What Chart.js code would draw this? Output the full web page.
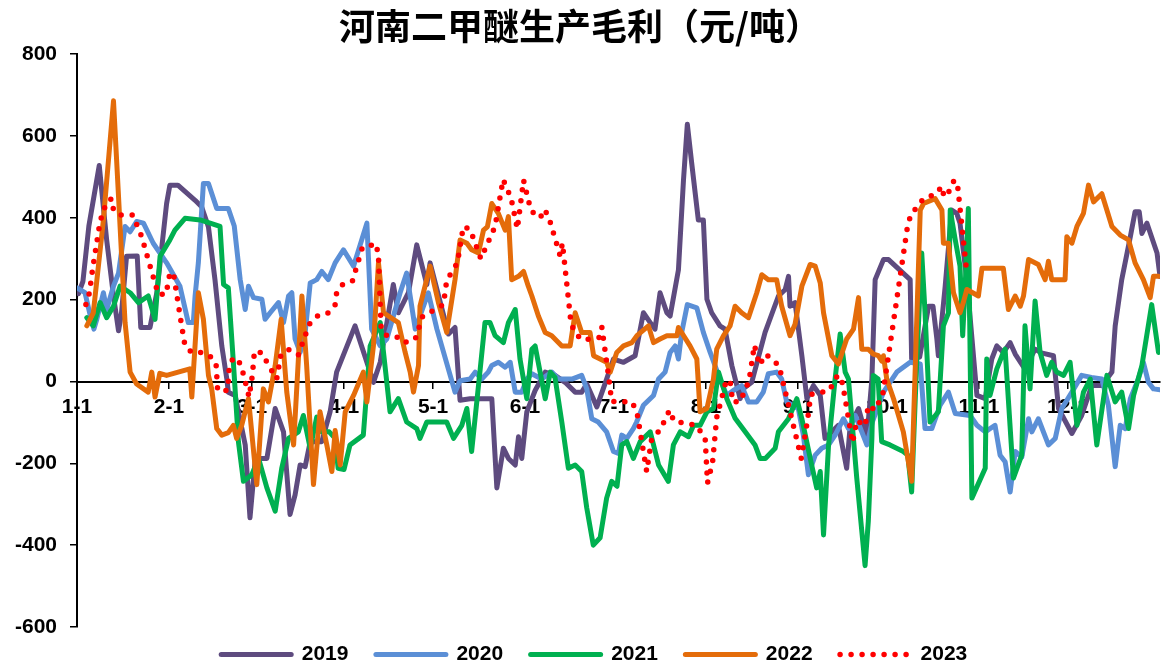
<!DOCTYPE html>
<html>
<head>
<meta charset="utf-8">
<title>河南二甲醚生产毛利</title>
<script src="https://cdn.jsdelivr.net/npm/chart.js@4.4.0/dist/chart.umd.min.js"></script>
<style>
  html, body { margin: 0; padding: 0; background: #fff; }
  #wrap { width: 1161px; height: 668px; }
</style>
</head>
<body>
<div id="wrap"><canvas id="profit-chart" width="1161" height="668"></canvas></div>
<script>
// Axis ticks (day of year where each month starts)
var monthDays = [0, 31, 59, 90, 120, 151, 181, 212, 243, 273, 304, 334];
var monthLabels = ['1-1', '2-1', '3-1', '4-1', '5-1', '6-1', '7-1', '8-1', '9-1', '10-1', '11-1', '12-1'];

// 2019
var days2019 = [0.5, 2, 4, 7.5, 10, 12.3, 14, 15, 16.7, 20.3, 21.5, 24.6, 26.9, 30.2, 31.3, 34, 39.8, 42, 44.3, 46.5, 48.8, 50.5, 51, 53.3, 56.7, 58.3, 60, 61.2, 64, 66.8, 69.6, 71.8, 73.5, 75.2, 76.9, 78.6, 82.5, 85.3, 87.5, 93.7, 99.9, 102.2, 106.6, 108.3, 111.7, 114.5, 117.9, 119, 125.2, 127.4, 129.1, 132.5, 136.4, 139.8, 141.5, 143.7, 145.4, 147.7, 148.8, 149.9, 151.6, 154.4, 157.8, 161.1, 164.5, 167.9, 170.1, 171.8, 175.2, 178.5, 180.8, 184.2, 188.1, 190.9, 193.2, 194.8, 196.5, 198.8, 199.9, 202.7, 204.4, 205.7, 207.2, 209.4, 211.1, 212.3, 213.9, 216.7, 218.4, 220.7, 223.5, 224.5, 227.4, 231.9, 236.4, 238.7, 239.8, 240.3, 242, 244.3, 246, 248.2, 250.5, 252.1, 254.4, 256.6, 259.4, 260.6, 263.4, 266.2, 267.9, 269, 271.8, 273.5, 280.8, 281.3, 284, 287, 288.5, 289.8, 290.3, 292.6, 294.8, 296.5, 297.6, 299.9, 303.3, 306.1, 308.3, 310, 312.2, 314.5, 316.2, 319.5, 322.9, 325, 329.1, 330.8, 335.3, 338.6, 342, 345.4, 348.8, 349.9, 352.1, 355, 356.6, 358, 358.9, 360.6, 364, 365];
var vals2019 = [215, 245, 380, 528, 346, 209, 124, 168, 306, 307, 132, 132, 217, 435, 480, 480, 443, 427, 378, 249, 87, 6, -26, -34, -155, -333, -196, -188, -188, -66, -123, -325, -277, -204, -208, -147, -147, -74, 23, 136, -2, 47, 237, 168, 217, 334, 237, 290, 116, 132, -46, -42, -42, -42, -260, -163, -188, -204, -135, -188, -74, -22, 23, 15, -2, -26, -26, -6, -62, 6, 55, 47, 63, 168, 144, 128, 217, 168, 160, 273, 492, 629, 532, 395, 395, 201, 168, 136, 128, 39, -42, -18, -2, 120, 209, 225, 257, 184, 193, 63, -42, -10, -34, -139, -123, -107, -212, -107, -66, -139, 6, 249, 298, 298, 249, 55, 60, 184, 184, 104, 63, 233, 419, 411, 387, 249, -34, -42, 55, 87, 71, 95, 67, 30, 79, 70, 63, -66, -127, -83, -10, -10, 23, 136, 249, 354, 415, 415, 362, 387, 314, 257];

// 2020
var days2020 = [0, 2.7, 4.5, 5.7, 6.6, 8.9, 10, 12.3, 14, 16.2, 17.9, 20.1, 22.4, 25.7, 30.2, 34.7, 37.5, 39.2, 39.8, 40.9, 42.6, 44.3, 47.1, 51, 53, 55, 56.7, 57.8, 59.5, 62.3, 63.4, 65.1, 67.9, 69.6, 71.3, 72.4, 73.5, 75.2, 76.9, 78.6, 80.8, 82.5, 84.7, 87, 89.8, 93.2, 97.7, 99.3, 102.2, 104.4, 108.9, 111.1, 114, 118.4, 121.3, 127.4, 129.1, 132.5, 134.2, 136.4, 138.6, 139.8, 142, 144.3, 146, 147.7, 149.9, 151.6, 153.3, 156.6, 160, 162.3, 166.8, 170.1, 171.8, 173.5, 175.7, 178.5, 180.8, 182.5, 183.6, 185.3, 187.5, 188.6, 190.9, 194.3, 196, 198.2, 199.9, 201.6, 202.7, 203.8, 205.7, 208.9, 211.1, 213.4, 216.7, 219, 221.2, 224, 226.3, 229.1, 231.3, 233, 235.8, 237.5, 239.2, 243.1, 244.8, 246.5, 248.8, 251, 253.3, 255.5, 258.3, 260, 262.3, 264.5, 266.2, 268, 271.8, 276.3, 280.8, 284.2, 285.8, 288.1, 290.9, 293.7, 296, 301, 303.3, 306.1, 309.4, 311.1, 312.8, 314.5, 316.2, 318.4, 320.7, 321.8, 324, 327.4, 329.7, 331.9, 335.3, 338.6, 341.9, 345.4, 347.6, 349.9, 351.6, 353.3, 355, 357.7, 359.4, 361.1, 362.8, 365];
var vals2020 = [229, 217, 160, 128, 150, 217, 176, 233, 265, 379, 366, 391, 387, 338, 290, 233, 144, 144, 209, 290, 484, 484, 423, 423, 380, 249, 176, 233, 205, 201, 152, 168, 193, 144, 209, 217, 104, 71, 120, 241, 249, 269, 249, 290, 322, 282, 387, 128, 87, 104, 217, 265, 128, 217, 128, -26, 2, 6, 23, 6, 23, 39, 47, 35, 47, -26, -26, 6, 19, 6, 23, 6, 6, 15, -18, -91, -99, -123, -171, -176, -131, -139, -115, -99, -58, -34, 6, 23, 71, 87, 55, 120, 188, 180, 120, 71, 6, -34, -22, -10, -50, -50, -26, 19, 23, 6, -50, -66, -131, -228, -180, -163, -155, -131, -91, -115, -83, -123, -155, -100, -26, 23, 47, 43, -115, -115, -58, -26, -78, -83, -107, -123, -107, -180, -196, -270, -171, -185, -91, -123, -91, -155, -139, -66, -26, 15, 10, 6, -58, -208, -107, -115, -42, 6, 47, -2, -18, -20];

// 2021
var days2021 = [3.3, 5.5, 7.8, 10, 12.3, 14.5, 17.9, 20.7, 24, 26.3, 28, 31.3, 33, 36.4, 41.5, 48.2, 49.4, 51, 52.7, 54.4, 56.1, 58.9, 61.2, 64, 66.8, 69, 71.3, 74.6, 76.3, 78.6, 80.8, 82.5, 85, 87, 88, 90, 92, 96.5, 98.8, 102.2, 105.5, 108.3, 111.1, 114.5, 115.6, 117.9, 122.4, 124.6, 126.9, 129.7, 131.4, 133, 135.9, 137.5, 139.2, 140.9, 143.7, 145.4, 147.7, 149.3, 151.6, 153.3, 154.4, 157.8, 159.5, 161.1, 163.4, 165.6, 167.9, 170.1, 171.8, 174, 176.3, 178.5, 180.2, 182, 183.6, 185.3, 187.5, 189.8, 193.2, 196, 199.3, 201, 203.3, 206.1, 207.8, 210, 212.3, 214.5, 216.2, 219, 221.8, 225.2, 228.5, 230.2, 232, 235.3, 236.4, 239.8, 242.6, 244.3, 247.6, 249.3, 250.5, 251.6, 253.3, 255.5, 257.2, 258.9, 260, 262.8, 265.6, 266.7, 267.9, 268.4, 270, 271.2, 274, 278.5, 280, 281.3, 283, 284.7, 285.8, 287.5, 290.3, 292, 293.7, 294.3, 296, 297.6, 298.5, 299.5, 300.4, 301.6, 306.1, 306.6, 307.7, 310, 312.2, 312.8, 315.6, 318.4, 319.5, 321.2, 322.9, 324.6, 326.8, 328.5, 330.2, 332.5, 334.7, 337, 339.2, 341.5, 343.7, 347.1, 349.9, 352.1, 354.4, 356.1, 358.9, 362.2, 364.5];
var vals2021 = [156, 136, 193, 156, 184, 233, 217, 193, 209, 152, 306, 346, 370, 399, 395, 379, 237, 229, 47, -147, -244, -228, -188, -260, -317, -212, -139, -123, -83, -163, -87, -123, -123, -139, -212, -215, -155, -131, 87, 144, -74, -42, -99, -115, -139, -99, -99, -99, -139, -107, -66, -171, 31, 144, 144, 112, 95, 144, 176, 55, -42, 79, 87, -42, 23, 10, -99, -212, -204, -220, -309, -400, -382, -285, -244, -256, -155, -147, -188, -147, -123, -204, -244, -155, -123, -135, -107, -107, -74, -66, 23, -42, -90, -123, -155, -188, -188, -163, -123, -91, -42, -91, -204, -260, -220, -375, -155, 6, 116, 23, 6, -236, -450, -341, -139, 15, 6, -147, -155, -171, -180, -270, 47, 314, 170, -99, -74, 136, 168, 419, 346, 282, 112, 260, 423, -285, -212, 55, -34, 31, 71, 79, -236, -180, 136, -18, 197, 71, 15, 47, 23, 15, 47, -107, -26, 6, -155, 15, -50, -26, -115, -34, 39, 188, 71];

// 2022
var days2022 = [3.3, 5.5, 8.9, 12.3, 14, 16.2, 17.9, 20.1, 24, 25.2, 26.3, 27.9, 30.2, 38, 38.7, 40.9, 42.6, 44.3, 45.4, 47.1, 48.8, 51, 52.7, 53.8, 55.5, 57.8, 60.6, 62.8, 64.5, 66.8, 68.8, 70.7, 73, 75.8, 77.4, 79.7, 81.9, 84.2, 85.9, 87, 88.7, 90.4, 93.2, 96.5, 97.7, 99.9, 101.6, 103.3, 108.3, 110.6, 112.3, 113.4, 115.1, 115.6, 119, 121.8, 124.6, 127.4, 129.1, 131.4, 133, 135.3, 137, 138.3, 139.8, 142, 144.3, 145.4, 146.5, 148.8, 150.5, 152.1, 153.3, 155.5, 157.8, 160, 163.4, 166.2, 167.9, 170.1, 172.9, 174.1, 178.5, 179.7, 181.9, 184.2, 187, 188.7, 192.6, 194.3, 196.5, 198.8, 202.2, 202.7, 206.6, 208.9, 210, 212.3, 214.5, 215.6, 217.9, 220.1, 221.8, 224, 226.3, 229.1, 230.8, 233, 235.8, 237.5, 240.3, 242, 244.3, 247.1, 248.8, 250.5, 251.6, 254.4, 256.6, 259.4, 261.7, 263.4, 264.5, 266.7, 268.4, 270.1, 271.2, 271.8, 272.9, 275.2, 278.5, 281.3, 284.2, 285.3, 289.2, 291.5, 292, 293.7, 295.4, 297.6, 298.7, 299.9, 303.8, 305, 312.2, 313.9, 316.2, 317.9, 319, 320.7, 324, 326.3, 327.4, 328.5, 333, 333.6, 335.3, 337, 339.2, 340.9, 342.6, 345.4, 348.8, 351.6, 354.4, 356.6, 359.4, 361.7, 362.8, 364.5];
var vals2022 = [136, 168, 395, 686, 451, 144, 23, -6, -26, 23, -38, 20, 15, 31, -38, 217, 152, 15, -18, -115, -131, -125, -107, -139, -107, -42, -252, -18, -50, 39, 152, -26, -155, 209, 39, -252, -74, -155, -220, -120, -204, -74, -34, 23, -50, 87, 290, 168, 144, 71, 23, -26, 39, 184, 282, 193, 120, 249, 346, 338, 322, 314, 370, 378, 435, 411, 370, 403, 249, 257, 269, 233, 209, 160, 120, 112, 87, 87, 168, 120, 120, 63, 47, 23, 71, 87, 95, 112, 136, 95, 104, 112, 112, 132, 87, 55, -74, -66, 6, 79, 112, 136, 184, 168, 156, 217, 261, 249, 249, 184, 112, 140, 233, 286, 282, 241, 168, 63, 43, 104, 128, 205, 79, 79, 67, 63, 50, 63, 6, -42, -123, -244, 419, 435, 447, 419, 338, 338, 217, 168, 193, 225, 209, 277, 277, 176, 209, 184, 209, 298, 286, 249, 294, 249, 249, 354, 338, 379, 411, 480, 439, 459, 379, 358, 346, 290, 249, 205, 257, 257];

// 2023
var days2023 = [3, 4.2, 5.3, 7.8, 10, 11.7, 12.3, 14.5, 18.8, 21.8, 24, 27.4, 30, 31.3, 32.5, 35.1, 36.4, 38.7, 42.6, 45.4, 46.9, 47.4, 50.8, 51.3, 52.7, 55.2, 58, 59.1, 59.8, 62.3, 64.3, 67.3, 68.7, 71.3, 74.6, 77.2, 78.6, 81.4, 84.7, 87, 87.5, 89.5, 92.8, 96.2, 99.9, 100.8, 101.6, 102.5, 104.4, 108.1, 110.2, 114, 116.4, 120.1, 123.5, 124.6, 128.2, 130.2, 132.5, 136.1, 140.9, 143.6, 146.3, 148.4, 150.5, 153, 156.1, 157.5, 158.9, 162.8, 163.6, 166.5, 168.1, 170.4, 176.3, 176.9, 179.1, 180.2, 187, 188.7, 192, 193.7, 196.5, 199.7, 201.2, 208.7, 211.7, 212.5, 214.2, 215.6, 218.8, 220.1, 221, 223.5, 226.5, 228.3, 230, 232.1, 236.6, 244.1, 246.2, 247.3, 253.5, 256.4, 258, 261.4, 262.8, 265.6, 266.7, 269, 271.6, 279.9, 281, 285.3, 289.4, 291.5, 292.2, 293.9, 295.6, 296.7, 299.7];
var vals2023 = [188, 217, 277, 392, 439, 447, 419, 407, 407, 354, 298, 213, 213, 265, 265, 144, 87, 71, 71, 59, 39, -22, -22, 35, 59, 43, -38, 15, 74, 70, 43, 6, 65, 78, 65, 118, 144, 162, 168, 188, 217, 237, 245, 328, 334, 337, 306, 128, 112, 108, 95, 104, 158, 174, 188, 247, 290, 379, 372, 300, 379, 494, 448, 373, 492, 417, 400, 421, 404, 308, 338, 142, 116, 101, 108, 132, 16, -49, -50, -74, -220, -139, -119, -70, -97, -107, -138, -248, -198, -88, 2, 2, -50, -49, 2, 89, 40, 67, 39, -188, -95, -32, -22, 16, -4, -150, -95, -109, -58, -70, -30, 379, 407, 447, 458, 477, 451, 465, 492, 485, 279];

var seriesList = [
  { label: '2019', days: days2019, vals: vals2019, color: '#5E4B7F', width: 5 },
  { label: '2020', days: days2020, vals: vals2020, color: '#5B8FD6', width: 5 },
  { label: '2021', days: days2021, vals: vals2021, color: '#00B050', width: 5 },
  { label: '2022', days: days2022, vals: vals2022, color: '#E46C0A', width: 5 },
  { label: '2023', days: days2023, vals: vals2023, color: '#FF0000', width: 5.5, dash: [0, 11] }
];

var fontFamily = '"Liberation Sans", Arial, sans-serif';
Chart.defaults.font.family = fontFamily;
Chart.defaults.color = '#000';

function toPoints(days, vals) {
  return days.map(function (d, i) { return { x: d, y: vals[i] }; });
}

var datasets = seriesList.map(function (s, i) {
  return {
    label: s.label,
    data: toPoints(s.days, s.vals),
    borderColor: s.color,
    backgroundColor: s.color,
    borderWidth: s.width,
    borderDash: s.dash || [],
    borderCapStyle: 'round',
    borderJoinStyle: 'round',
    pointRadius: 0,
    tension: 0,
    fill: false,
    order: seriesList.length - i  // later years drawn on top
  };
});

// nudge the legend row to where the original sits
var legendOffset = {
  id: 'legendOffset',
  afterLayout: function (chart) {
    var lg = chart.legend;
    if (!lg) return;
    lg.top += 7; lg.bottom += 7;
    lg.left += 23; lg.right += 23;
  }
};

new Chart(document.getElementById('profit-chart'), {
  type: 'line',
  data: { datasets: datasets },
  plugins: [legendOffset],
  options: {
    responsive: false,
    animation: false,
    layout: { padding: { left: 0, right: 1, top: 0, bottom: 0 } },
    plugins: {
      title: {
        display: true,
        text: '河南二甲醚生产毛利（元/吨）',
        color: '#000',
        font: { family: '"Noto Sans CJK SC", sans-serif', size: 36, weight: 'bold' },
        padding: { top: 5, bottom: 6 }
      },
      legend: {
        position: 'bottom',
        labels: {
          usePointStyle: true,
          pointStyleWidth: 70,
          padding: 10,
          color: '#000',
          font: { size: 21, weight: 'bold' },
          generateLabels: function () {
            return seriesList.map(function (s, i) {
              return {
                text: s.label + '   ',
                strokeStyle: s.color,
                fillStyle: s.color,
                lineWidth: s.width,
                lineDash: s.dash || [],
                lineCap: 'round',
                pointStyle: 'line',
                hidden: false,
                datasetIndex: i,
                fontColor: '#000'
              };
            });
          }
        }
      },
      tooltip: { enabled: false }
    },
    scales: {
      x: {
        type: 'linear',
        position: { y: 0 },
        min: 0,
        max: 365,
        afterBuildTicks: function (scale) {
          scale.ticks = monthDays.map(function (d) { return { value: d }; });
        },
        ticks: {
          autoSkip: false,
          maxRotation: 0,
          padding: 7,
          color: '#000',
          font: { size: 21, weight: 'bold' },
          callback: function (value, index) { return monthLabels[index]; }
        },
        grid: { drawOnChartArea: false, drawTicks: true, tickLength: 6, color: '#000', lineWidth: 1.5 },
        border: { display: true, color: '#000', width: 2 }
      },
      y: {
        min: -600,
        max: 800,
        afterFit: function (scale) { scale.width = 77; },
        ticks: {
          stepSize: 200,
          padding: 13,
          color: '#000',
          font: { size: 21, weight: 'bold' }
        },
        grid: { drawOnChartArea: false, drawTicks: true, tickLength: 7, color: '#000', lineWidth: 1.5 },
        border: { display: true, color: '#000', width: 2 }
      }
    }
  }
});
</script>
</body>
</html>
